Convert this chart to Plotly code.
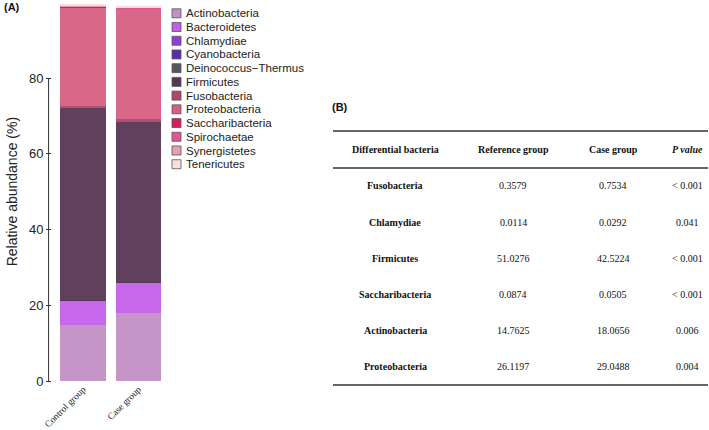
import plotly.graph_objects as go

groups = ["Control group", "Case group"]
phyla = ["Actinobacteria", "Bacteroidetes", "Chlamydiae", "Cyanobacteria",
         "Deinococcus\u2212Thermus", "Firmicutes", "Fusobacteria", "Proteobacteria",
         "Saccharibacteria", "Spirochaetae", "Synergistetes", "Tenericutes"]
control_vals = [14.7625, 6.3, 0.0114, 0.02, 0.02, 51.0276, 0.3579, 26.1197, 0.0874, 0.15, 0.1, 0.4]
case_vals = [18.0656, 7.8, 0.0292, 0.02, 0.02, 42.5224, 0.7534, 29.0488, 0.0505, 0.15, 0.1, 0.3]
colors = ["#c390c6", "#c360e8", "#8a3fd6", "#5a2ea6", "#555566", "#583655",
          "#b0456e", "#d75f81", "#d61e5a", "#e25595", "#e8a0b0", "#f6dfdf"]
yticks = [0, 20, 40, 60, 80]

tbl_header = ["Differential bacteria", "Reference group", "Case group", "<i>P value</i>"]
tbl_bacteria = ["Fusobacteria", "Chlamydiae", "Firmicutes", "Saccharibacteria", "Actinobacteria", "Proteobacteria"]
tbl_ref = ["0.3579", "0.0114", "51.0276", "0.0874", "14.7625", "26.1197"]
tbl_case = ["0.7534", "0.0292", "42.5224", "0.0505", "18.0656", "29.0488"]
tbl_p = ["< 0.001", "0.041", "< 0.001", "< 0.001", "0.006", "0.004"]

W, H = 709, 430


def px(x):
    return x / W


def py(y):
    return 1 - y / H


fig = go.Figure()
for i, p in enumerate(phyla):
    fig.add_trace(go.Bar(x=groups, y=[control_vals[i], case_vals[i]], name=p,
                         marker=dict(color=colors[i], line=dict(width=0)), opacity=0.95,
                         showlegend=False))

fig.update_layout(
    width=W, height=H, barmode="stack", bargap=0.18,
    margin=dict(l=0, r=0, t=0, b=0, autoexpand=False),
    paper_bgcolor="white", plot_bgcolor="white",
    font=dict(family="Liberation Sans, Arial", color="#111"),
    xaxis=dict(domain=[px(52), px(166)], range=[-0.56, 1.5], showline=False, automargin=False,
               ticks="", tickangle=-45, tickfont=dict(family="Liberation Serif", size=9.5, color="#222")),
    yaxis=dict(domain=[py(381), py(2.25)], range=[0, 100], tickvals=yticks, automargin=False,
               showgrid=False, zeroline=False, showline=False, ticks="outside", ticklen=5,
               tickcolor="#333", tickfont=dict(size=13, color="#222"),
               title=dict(text="Relative abundance (%)", font=dict(size=14, color="#222"), standoff=8)),
    showlegend=False,
)
# y axis line from 0 to last tick
fig.add_shape(type="line", xref="x domain", yref="y", x0=-0.03, x1=-0.03, y0=yticks[0], y1=yticks[-1],
              line=dict(color="#333", width=1))

ann = []
# manual legend
leg_y0, leg_dy = 13.3, 13.72
for i, p in enumerate(phyla):
    yc = leg_y0 + i * leg_dy
    fig.add_shape(type="rect", xref="paper", yref="paper", x0=px(172), x1=px(181),
                  y0=py(yc + 4.5), y1=py(yc - 4.5), fillcolor=colors[i],
                  line=dict(color="#555", width=0.8))
    ann.append(dict(text=p, x=px(184), y=py(yc), xref="paper", yref="paper", showarrow=False,
                    xanchor="left", yanchor="middle", font=dict(size=11.5, color="#222")))

ann.append(dict(text="<b>(A)</b>", x=px(2), y=py(7), xref="paper", yref="paper", showarrow=False,
                xanchor="left", yanchor="middle", font=dict(size=11, color="#111")))
ann.append(dict(text="<b>(B)</b>", x=px(330), y=py(107), xref="paper", yref="paper", showarrow=False,
                xanchor="left", yanchor="middle", font=dict(size=11, color="#111")))

col_x = [395, 513, 613, 687]
header_y = 150
row_y0, row_dy = 186, 36
for j, h in enumerate(tbl_header):
    ann.append(dict(text="<b>" + h + "</b>", x=px(col_x[j]), y=py(header_y), xref="paper", yref="paper",
                    xanchor="center", yanchor="middle", showarrow=False,
                    font=dict(family="Liberation Serif", size=10, color="#111")))
for i in range(len(tbl_bacteria)):
    yy = py(row_y0 + i * row_dy)
    cells = ["<b>" + tbl_bacteria[i] + "</b>", tbl_ref[i], tbl_case[i], tbl_p[i]]
    for j, c in enumerate(cells):
        ann.append(dict(text=c, x=px(col_x[j]), y=yy, xref="paper", yref="paper", showarrow=False,
                        xanchor="center", yanchor="middle",
                        font=dict(family="Liberation Serif", size=10, color="#111")))
fig.update_layout(annotations=ann)
for ly in [131, 168, 385]:
    fig.add_shape(type="line", xref="paper", yref="paper", x0=px(333), x1=px(708),
                  y0=py(ly), y1=py(ly), line=dict(color="#333", width=1.3))

fig.write_html("out.html", config={"displayModeBar": False},
               post_script="document.body.style.margin='0px';document.body.style.overflow='hidden';")
